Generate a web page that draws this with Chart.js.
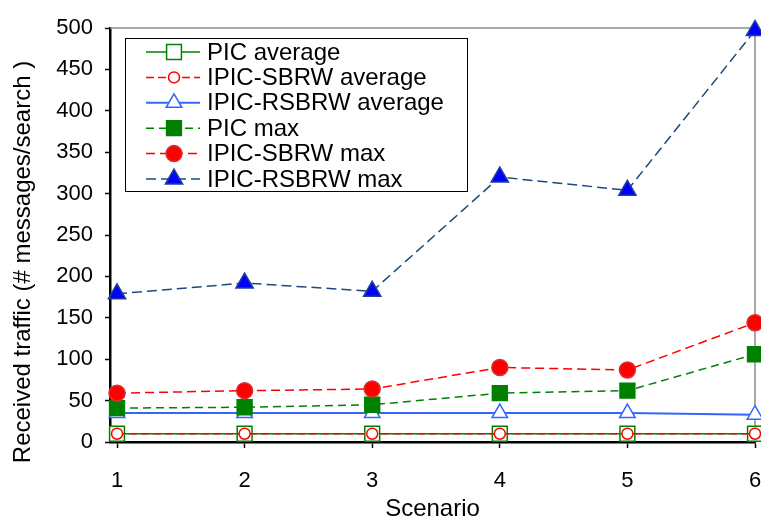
<!DOCTYPE html>
<html>
<head>
<meta charset="utf-8">
<script src="https://cdn.jsdelivr.net/npm/chart.js@4.4.1/dist/chart.umd.min.js"></script>
<style>
  html, body { margin: 0; padding: 0; background: #fff; }
  #wrap { width: 761px; height: 521px; }
</style>
</head>
<body>
<div id="wrap"><canvas id="chart" width="761" height="521"></canvas></div>
<script>
// values
const scenarios = [1, 2, 3, 4, 5, 6];
const picAvg = [10, 10, 10, 10, 10, 10];
const sbrwAvg = [10, 10, 10, 10, 10, 10];
const rsbrwAvg = [35, 35, 35, 35, 35, 33];
const picMax = [41, 42, 45, 59, 62, 106];
const sbrwMax = [59, 62, 64, 90, 87, 144];
const rsbrwMax = [179, 192, 182, 320, 304, 497];
const yTicks = [0, 50, 100, 150, 200, 250, 300, 350, 400, 450, 500];
const seriesNames = ['PIC average', 'IPIC-SBRW average', 'IPIC-RSBRW average', 'PIC max', 'IPIC-SBRW max', 'IPIC-RSBRW max'];
const yTitle = 'Received traffic (# messages/search )';

const FONT = '"Liberation Sans", Arial, sans-serif';
const pts = vals => scenarios.map((s, i) => ({ x: s, y: vals[i] }));

const styles = [
  { color: '#008000', dash: [], width: 1.5, shape: 'rect', r: 10.5, fill: '#ffffff', edge: '#008000' },
  { color: '#ff0000', dash: [8, 4], width: 1.5, shape: 'circle', r: 5.5, fill: '#ffffff', edge: '#ff0000' },
  { color: '#3366ff', dash: [], width: 2, shape: 'triangle', r: 9, fill: '#ffffff', edge: '#3366ff' },
  { color: '#008000', dash: [8, 5], width: 1.5, shape: 'rect', r: 10.5, fill: '#008000', edge: '#008000' },
  { color: '#ff0000', dash: [9, 5], width: 1.5, shape: 'circle', r: 8, fill: '#ff0000', edge: '#d93030' },
  { color: '#1f497d', dash: [10, 5], width: 1.5, shape: 'triangle', r: 10, fill: '#0000ff', edge: '#1f3f99' }
];
const allVals = [picAvg, sbrwAvg, rsbrwAvg, picMax, sbrwMax, rsbrwMax];

const datasets = allVals.map((vals, i) => ({
  label: seriesNames[i],
  data: pts(vals),
  showLine: true,
  tension: 0,
  clip: false,
  order: 5 - i,
  borderColor: styles[i].color,
  borderWidth: styles[i].width,
  borderDash: styles[i].dash,
  pointStyle: styles[i].shape,
  pointRadius: styles[i].r,
  pointHoverRadius: styles[i].r,
  pointBackgroundColor: styles[i].fill,
  pointBorderColor: styles[i].edge,
  pointBorderWidth: 1.5
}));

function drawMarker(ctx, st, x, y) {
  ctx.save();
  ctx.setLineDash([]);
  ctx.fillStyle = st.fill;
  ctx.strokeStyle = st.edge;
  ctx.lineWidth = 1.5;
  ctx.beginPath();
  if (st.shape === 'rect') {
    const s = st.r * Math.SQRT1_2;
    ctx.rect(x - s, y - s, 2 * s, 2 * s);
  } else if (st.shape === 'circle') {
    ctx.arc(x, y, st.r, 0, Math.PI * 2);
  } else {
    const r = st.r;
    ctx.moveTo(x, y - r);
    ctx.lineTo(x + r * Math.sin(Math.PI / 3), y + r / 2);
    ctx.lineTo(x - r * Math.sin(Math.PI / 3), y + r / 2);
    ctx.closePath();
  }
  ctx.fill();
  ctx.stroke();
  ctx.restore();
}

const framePlugin = {
  id: 'frame',
  beforeDatasetsDraw(chart) {
    const { ctx, chartArea: a } = chart;
    ctx.save();
    ctx.strokeStyle = '#8c8c8c';
    ctx.lineWidth = 1.5;
    ctx.beginPath();
    ctx.moveTo(a.left, a.top);
    ctx.lineTo(a.right, a.top);
    ctx.lineTo(a.right, a.bottom);
    ctx.stroke();
    ctx.restore();
  },
  afterDraw(chart) {
    // y axis title sits a bit lower than the plot centre in the original
    const ctx = chart.ctx;
    ctx.save();
    ctx.translate(23, 262);
    ctx.rotate(-Math.PI / 2);
    ctx.font = '24px ' + FONT;
    ctx.fillStyle = '#000';
    ctx.textAlign = 'center';
    ctx.textBaseline = 'middle';
    ctx.fillText(yTitle, 0, 0);
    ctx.restore();
  }
};

const legendPlugin = {
  id: 'boxLegend',
  afterDatasetsDraw(chart) {
    const ctx = chart.ctx;
    ctx.save();
    ctx.fillStyle = '#ffffff';
    ctx.fillRect(125, 38, 343, 153);
    ctx.strokeStyle = '#000000';
    ctx.lineWidth = 1;
    ctx.strokeRect(125.5, 38.5, 342, 153);
    ctx.font = '24px ' + FONT;
    ctx.textBaseline = 'middle';
    seriesNames.forEach((name, i) => {
      const st = styles[i];
      const y = 52 + i * 25.4;
      ctx.strokeStyle = st.color;
      ctx.lineWidth = st.width;
      ctx.setLineDash(st.dash);
      ctx.beginPath();
      ctx.moveTo(146, y);
      ctx.lineTo(200, y);
      ctx.stroke();
      drawMarker(ctx, st, 174, y);
      ctx.fillStyle = '#000000';
      ctx.fillText(name, 207, y + 1);
    });
    ctx.restore();
  }
};

new Chart(document.getElementById('chart'), {
  type: 'scatter',
  data: { datasets },
  options: {
    responsive: false,
    animation: false,
    layout: { autoPadding: false, padding: { top: 28, right: 6, left: 0, bottom: 0 } },
    plugins: { legend: { display: false }, tooltip: { enabled: false } },
    scales: {
      x: {
        type: 'linear',
        min: 0.945,
        max: 6,
        afterBuildTicks: s => { s.ticks = scenarios.map(v => ({ value: v })); },
        afterFit: s => { s.height = 79; s.paddingLeft = 0; s.paddingRight = 0; },
        grid: { drawOnChartArea: false, drawTicks: true, tickLength: 6, tickWidth: 1.5, tickColor: '#000' },
        border: { display: true, color: '#000', width: 2.5 },
        ticks: { color: '#000', padding: 20, font: { family: FONT, size: 22 }, maxRotation: 0 },
        title: { display: true, text: 'Scenario', color: '#000', font: { family: FONT, size: 24, lineHeight: 1 }, padding: 0 }
      },
      y: {
        min: 0,
        max: 500,
        afterBuildTicks: s => { s.ticks = yTicks.map(v => ({ value: v })); },
        afterFit: s => { s.width = 110; s.paddingTop = 0; s.paddingBottom = 0; },
        grid: { drawOnChartArea: false, drawTicks: true, tickLength: 5, tickWidth: 1.5, tickColor: '#000' },
        border: { display: true, color: '#000', width: 2.5 },
        ticks: { color: '#000', padding: 12, font: { family: FONT, size: 22 } },
        title: { display: false }
      }
    }
  },
  plugins: [framePlugin, legendPlugin]
});
</script>
</body>
</html>
